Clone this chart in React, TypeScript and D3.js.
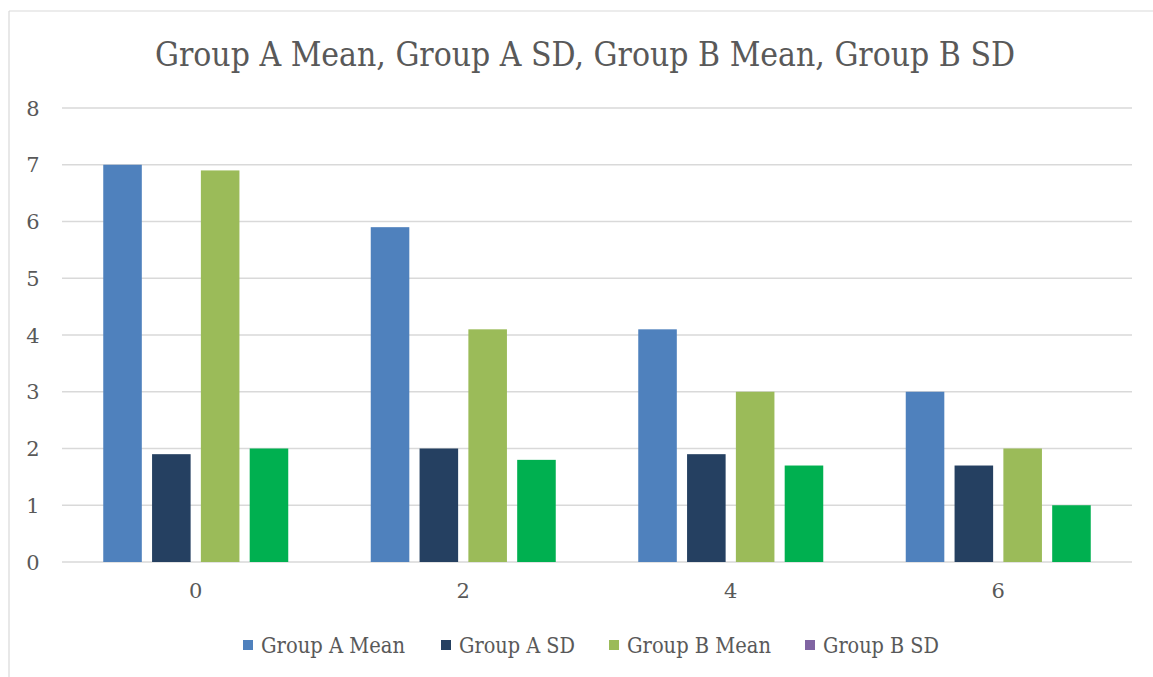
import React from "react";
import * as d3 from "d3";

const categories = ["0", "2", "4", "6"];
const seriesNames = ["Group A Mean", "Group A SD", "Group B Mean", "Group B SD"];
const groupAMean = [7, 5.9, 4.1, 3];
const groupASD = [1.9, 2, 1.9, 1.7];
const groupBMean = [6.9, 4.1, 3, 2];
const groupBSD = [2, 1.8, 1.7, 1];
const yTicks = [0, 1, 2, 3, 4, 5, 6, 7, 8];
const barColors = ["#4F81BD", "#254061", "#9BBB59", "#00B050"];
const legendColors = ["#4F81BD", "#254061", "#9BBB59", "#8064A2"];
const legendX = [243, 441, 609, 805];
const legendTextLen = [144, 116, 144, 116];

const W = 1153;
const H = 677;
const FONT = "'DejaVu Serif', 'Liberation Serif', serif";

export default function App() {
  const series = [groupAMean, groupASD, groupBMean, groupBSD];
  const x = d3.scaleBand<string>().domain(categories).range([62, 1132]).paddingInner(0).paddingOuter(0);
  const y = d3.scaleLinear().domain([0, 8]).range([562, 108]);
  const inner = d3
    .scaleBand<number>()
    .domain([0, 1, 2, 3])
    .range([0, 185])
    .paddingInner(0.21);
  const groupOffset = (x.bandwidth() - 185) / 2;

  return (
    <svg width={W} height={H} style={{ position: "absolute", left: 0, top: 0, background: "#fff" }}>
      <rect x={0} y={0} width={W} height={H} fill="#fff" />
      <line x1={9} y1={11} x2={W} y2={11} stroke="#D9D9D9" strokeWidth={1.2} />
      <line x1={9} y1={11} x2={9} y2={H} stroke="#D9D9D9" strokeWidth={1.2} />
      <text
        x={585}
        y={66}
        textAnchor="middle"
        fontFamily={FONT}
        fontSize={34}
        fill="#595959"
        textLength={860}
        lengthAdjust="spacingAndGlyphs"
      >
        Group A Mean, Group A SD, Group B Mean, Group B SD
      </text>
      {yTicks.map((t) => (
        <g key={t}>
          <line x1={62} x2={1132} y1={y(t)} y2={y(t)} stroke="#D9D9D9" strokeWidth={1.5} />
          <text x={33} y={y(t) + 7.5} textAnchor="middle" fontFamily={FONT} fontSize={21} fill="#595959">
            {t}
          </text>
        </g>
      ))}
      {categories.map((c, ci) => (
        <g key={c} transform={`translate(${(x(c) as number) + groupOffset},0)`}>
          {series.map((s, si) => (
            <rect
              key={si}
              x={inner(si) as number}
              y={y(s[ci])}
              width={inner.bandwidth()}
              height={y(0) - y(s[ci])}
              fill={barColors[si]}
            />
          ))}
        </g>
      ))}
      {categories.map((c) => (
        <text
          key={c}
          x={(x(c) as number) + x.bandwidth() / 2}
          y={598}
          textAnchor="middle"
          fontFamily={FONT}
          fontSize={21}
          fill="#595959"
        >
          {c}
        </text>
      ))}
      {seriesNames.map((n, i) => (
        <g key={n}>
          <rect x={legendX[i]} y={640} width={10} height={10} fill={legendColors[i]} />
          <text
            x={legendX[i] + 18}
            y={653}
            fontFamily={FONT}
            fontSize={22}
            fill="#595959"
            textLength={legendTextLen[i]}
            lengthAdjust="spacingAndGlyphs"
          >
            {n}
          </text>
        </g>
      ))}
    </svg>
  );
}
